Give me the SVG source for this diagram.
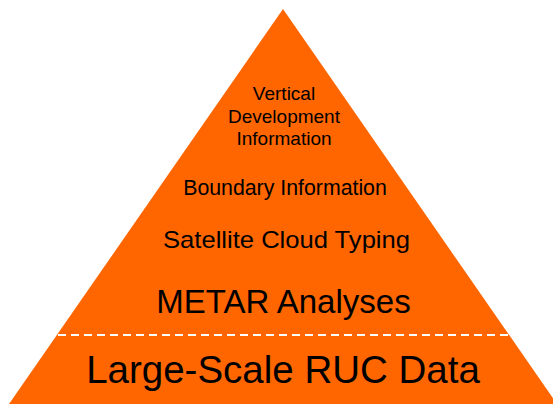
<svg xmlns="http://www.w3.org/2000/svg" width="553" height="404" viewBox="0 0 553 404">
<style>
  text { font-family: "Liberation Sans", Arial, sans-serif; fill: #000; text-anchor: middle; }
  .tri { fill: #FF6600; }
  .divider { stroke: #FFFFFF; stroke-width: 2; stroke-dasharray: 8 5; fill: none; }
</style>
<rect width="553" height="404" fill="#FFFFFF"/>
<g id="pyramid">
  <polygon class="tri" points="283,9 9,404 557,404"/>
</g>
<g id="connectors">
  <line class="divider" x1="58" y1="335" x2="509" y2="335"/>
</g>
<g id="vertical-development">
  <text font-size="19" x="284" y="99.5">Vertical</text>
  <text font-size="19" x="284" y="122.5">Development</text>
  <text font-size="19" x="284" y="145">Information</text>
</g>
<g id="boundary-information">
  <text font-size="21.3" x="285" y="195">Boundary Information</text>
</g>
<g id="satellite-cloud-typing">
  <text font-size="24" x="286.5" y="248" textLength="247" lengthAdjust="spacingAndGlyphs">Satellite Cloud Typing</text>
</g>
<g id="metar-analyses">
  <text font-size="33" x="283.5" y="313">METAR Analyses</text>
</g>
<g id="large-scale-ruc-data">
  <text font-size="38.5" x="283" y="383">Large-Scale RUC Data</text>
</g>
</svg>
